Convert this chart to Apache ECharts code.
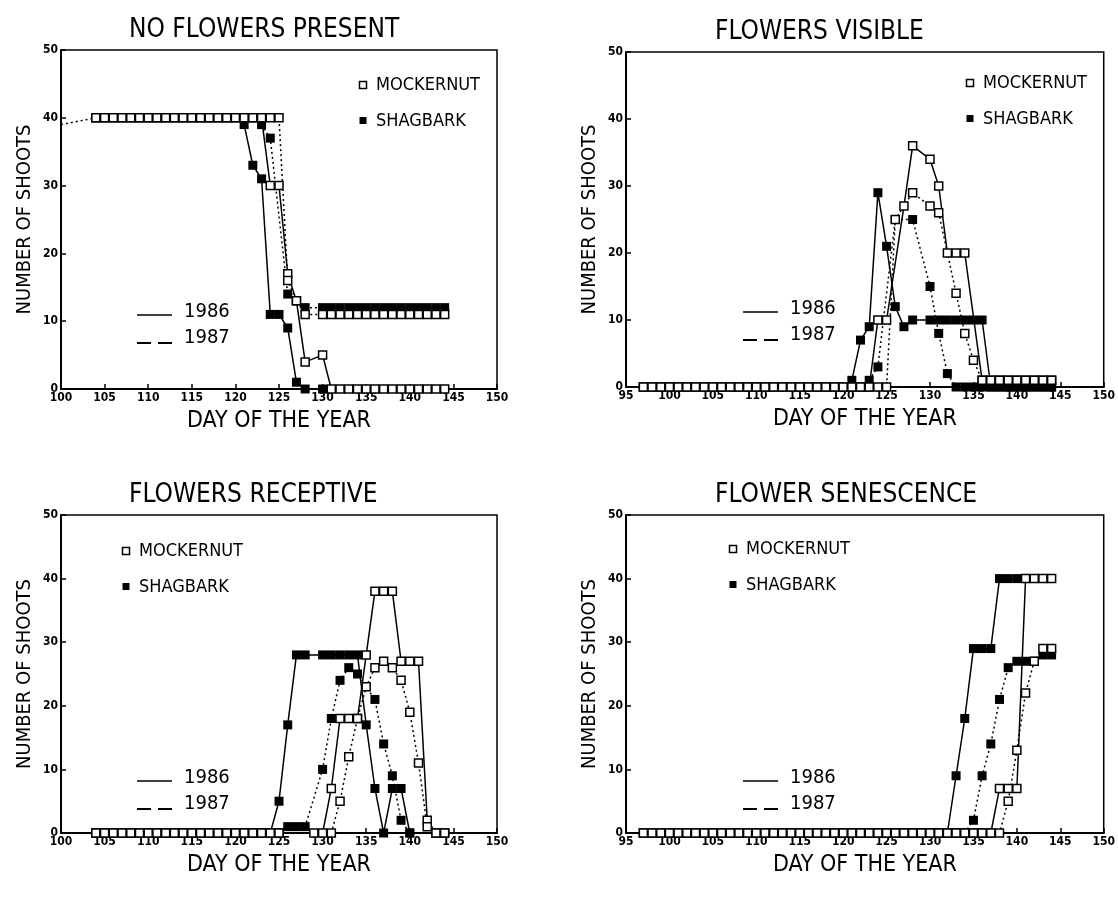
<!DOCTYPE html>
<html>
<head>
<meta charset="utf-8">
<script src="https://cdn.jsdelivr.net/npm/echarts/dist/echarts.min.js"></script>
<style>
  html, body { margin: 0; padding: 0; background: #fff; }
  #main { width: 1118px; height: 901px; }
</style>
</head>
<body>
<div id="main"></div>
<script>
// ---- data: [day of year, number of shoots] ----
// NO FLOWERS PRESENT
const noFlowMock86 = [[104,40],[105,40],[106,40],[107,40],[108,40],[109,40],[110,40],[111,40],[112,40],[113,40],[114,40],[115,40],[116,40],[117,40],[118,40],[119,40],[120,40],[121,40],[122,40],[123,40],[124,30],[125,30],[126,17],[127,13],[128,4],[130,5],[131,0],[132,0],[133,0],[134,0],[135,0],[136,0],[137,0],[138,0],[139,0],[140,0],[141,0],[142,0],[143,0],[144,0]];
const noFlowMock87Lead = [100,39];
const noFlowMock87 = [[104,40],[105,40],[106,40],[107,40],[108,40],[109,40],[110,40],[111,40],[112,40],[113,40],[114,40],[115,40],[116,40],[117,40],[118,40],[119,40],[120,40],[121,40],[122,40],[123,40],[124,40],[125,40],[126,16],[127,13],[128,11],[130,11],[131,11],[132,11],[133,11],[134,11],[135,11],[136,11],[137,11],[138,11],[139,11],[140,11],[141,11],[142,11],[143,11],[144,11]];
const noFlowShag86 = [[121,39],[122,33],[123,31],[124,11],[125,11],[126,9],[127,1],[128,0],[130,0]];
const noFlowShag87 = [[123,39],[124,37],[126,14],[128,12],[130,12],[131,12],[132,12],[133,12],[134,12],[135,12],[136,12],[137,12],[138,12],[139,12],[140,12],[141,12],[142,12],[143,12],[144,12]];

// FLOWERS VISIBLE
const visMock86 = [[97,0],[98,0],[99,0],[100,0],[101,0],[102,0],[103,0],[104,0],[105,0],[106,0],[107,0],[108,0],[109,0],[110,0],[111,0],[112,0],[113,0],[114,0],[115,0],[116,0],[117,0],[118,0],[119,0],[120,0],[121,0],[122,0],[123,0],[124,10],[125,10],[127,27],[128,36],[130,34],[131,30],[132,20],[133,20],[134,20],[136,1],[137,1],[138,1],[139,1],[140,1],[141,1],[142,1],[143,1],[144,1]];
const visMock87 = [[97,0],[98,0],[99,0],[100,0],[101,0],[102,0],[103,0],[104,0],[105,0],[106,0],[107,0],[108,0],[109,0],[110,0],[111,0],[112,0],[113,0],[114,0],[115,0],[116,0],[117,0],[118,0],[119,0],[120,0],[121,0],[122,0],[123,0],[124,0],[125,0],[126,25],[128,29],[130,27],[131,26],[133,14],[134,8],[135,4],[136,1],[137,1],[138,1],[139,1],[140,1],[141,1],[142,1],[143,1],[144,1]];
const visShag86 = [[121,1],[122,7],[123,9],[124,29],[125,21],[126,12],[127,9],[128,10],[130,10],[131,10],[132,10],[133,10],[134,10],[135,10],[136,10],[137,0],[138,0],[139,0],[140,0],[141,0],[142,0],[143,0],[144,0]];
const visShag87 = [[123,1],[124,3],[126,25],[128,25],[130,15],[131,8],[132,2],[133,0],[134,0],[135,0],[136,0],[137,0],[138,0],[139,0],[140,0],[141,0],[142,0],[143,0],[144,0]];

// FLOWERS RECEPTIVE
const recMock86 = [[104,0],[105,0],[106,0],[107,0],[108,0],[109,0],[110,0],[111,0],[112,0],[113,0],[114,0],[115,0],[116,0],[117,0],[118,0],[119,0],[120,0],[121,0],[122,0],[123,0],[124,0],[125,0],[129,0],[130,0],[131,7],[132,18],[133,18],[134,18],[135,28],[136,38],[137,38],[138,38],[139,27],[140,27],[141,27],[142,2],[143,0],[144,0]];
const recMock87 = [[104,0],[105,0],[106,0],[107,0],[108,0],[109,0],[110,0],[111,0],[112,0],[113,0],[114,0],[115,0],[116,0],[117,0],[118,0],[119,0],[120,0],[121,0],[122,0],[123,0],[124,0],[125,0],[131,0],[132,5],[133,12],[134,18],[135,23],[136,26],[137,27],[138,26],[139,24],[140,19],[141,11],[142,1],[143,0],[144,0]];
const recShag86 = [[121,0],[122,0],[123,0],[124,0],[125,5],[126,17],[127,28],[128,28],[130,28],[131,28],[132,28],[133,28],[134,28],[135,17],[136,7],[137,0],[138,7],[139,7],[140,0]];
const recShag87 = [[123,0],[124,0],[125,0],[126,1],[127,1],[128,1],[130,10],[131,18],[132,24],[133,26],[134,25],[136,21],[137,14],[138,9],[139,2],[140,0]];

// FLOWER SENESCENCE
const senMock86 = [[97,0],[98,0],[99,0],[100,0],[101,0],[102,0],[103,0],[104,0],[105,0],[106,0],[107,0],[108,0],[109,0],[110,0],[111,0],[112,0],[113,0],[114,0],[115,0],[116,0],[117,0],[118,0],[119,0],[120,0],[121,0],[122,0],[123,0],[124,0],[125,0],[126,0],[127,0],[128,0],[129,0],[130,0],[131,0],[132,0],[133,0],[134,0],[135,0],[136,0],[137,0],[138,7],[139,7],[140,7],[141,40],[142,40],[143,40],[144,40]];
const senMock87 = [[97,0],[98,0],[99,0],[100,0],[101,0],[102,0],[103,0],[104,0],[105,0],[106,0],[107,0],[108,0],[109,0],[110,0],[111,0],[112,0],[113,0],[114,0],[115,0],[116,0],[117,0],[118,0],[119,0],[120,0],[121,0],[122,0],[123,0],[124,0],[125,0],[126,0],[127,0],[128,0],[129,0],[130,0],[131,0],[132,0],[133,0],[134,0],[135,0],[136,0],[137,0],[138,0],[139,5],[140,13],[141,22],[142,27],[143,29],[144,29]];
const senShag86 = [[121,0],[122,0],[123,0],[124,0],[125,0],[126,0],[127,0],[128,0],[129,0],[130,0],[131,0],[132,0],[133,9],[134,18],[135,29],[136,29],[137,29],[138,40],[139,40],[140,40]];
const senShag87 = [[123,0],[124,0],[125,0],[126,0],[127,0],[128,0],[129,0],[130,0],[131,0],[132,0],[133,0],[134,0],[135,2],[136,9],[137,14],[138,21],[139,26],[140,27],[141,27],[142,27],[143,28],[144,28]];

const panelTitles = ['NO FLOWERS PRESENT', 'FLOWERS VISIBLE', 'FLOWERS RECEPTIVE', 'FLOWER SENESCENCE'];
const dayMin = [100, 95, 100, 95];

const FONT = '"Liberation Sans Narrow", "DejaVu Sans Condensed", "Liberation Sans", sans-serif';

// plot boxes in pixels [left, top, right, bottom]
const boxes = [
  [61, 50, 497, 389],
  [626, 52, 1104, 387],
  [61, 515, 497, 833],
  [626, 515, 1104, 833]
];

const chart = echarts.init(document.getElementById('main'));

const grids = boxes.map(b => ({
  left: b[0], top: b[1], width: b[2] - b[0], height: b[3] - b[1],
  show: true, borderColor: '#000', borderWidth: 1.5, backgroundColor: 'transparent'
}));

const xAxes = boxes.map((b, i) => ({
  type: 'value', gridIndex: i, min: dayMin[i], max: 150, interval: 5,
  name: 'DAY OF THE YEAR', nameLocation: 'middle', nameGap: 21,
  nameTextStyle: { fontFamily: FONT, fontSize: 23, color: '#000' },
  axisLine: { lineStyle: { color: '#000', width: 2 } },
  axisTick: { inside: true, length: 5, lineStyle: { color: '#000', width: 1.5 } },
  axisLabel: { fontFamily: FONT, fontSize: 12, fontWeight: 'bold', color: '#000', margin: 3 },
  splitLine: { show: false }
}));

const yAxes = boxes.map((b, i) => ({
  type: 'value', gridIndex: i, min: 0, max: 50, interval: 10,
  name: 'NUMBER OF SHOOTS', nameLocation: 'middle', nameGap: 26,
  nameTextStyle: { fontFamily: FONT, fontSize: 20, color: '#000' },
  axisLine: { lineStyle: { color: '#000', width: 2 } },
  axisTick: { inside: true, length: 5, lineStyle: { color: '#000', width: 1.5 } },
  axisLabel: { fontFamily: FONT, fontSize: 12, fontWeight: 'bold', color: '#000', margin: 3 },
  splitLine: { show: false }
}));

function mk(grid, data, filled, dotted) {
  return {
    type: 'line', xAxisIndex: grid, yAxisIndex: grid, data: data,
    symbol: 'rect', symbolSize: filled ? 9 : 8, showSymbol: true,
    itemStyle: filled ? { color: '#000' } : { color: '#fff', borderColor: '#000', borderWidth: 1.5 },
    lineStyle: { color: '#000', width: 1.5, type: dotted ? [2, 3] : 'solid' },
    z: filled ? 2 : 3,
    animation: false, silent: true
  };
}

const series = [
  mk(0, noFlowShag86, true, false), mk(0, noFlowShag87, true, true),
  mk(0, noFlowMock86, false, false),
  mk(0, [{ value: noFlowMock87Lead, symbol: 'none' }].concat(noFlowMock87), false, true),
  mk(1, visShag86, true, false), mk(1, visShag87, true, true),
  mk(1, visMock86, false, false), mk(1, visMock87, false, true),
  mk(2, recShag86, true, false), mk(2, recShag87, true, true),
  mk(2, recMock86, false, false), mk(2, recMock87, false, true),
  mk(3, senShag86, true, false), mk(3, senShag87, true, true),
  mk(3, senMock86, false, false), mk(3, senMock87, false, true)
];

// legend keys drawn per panel
const legendPos = [
  { sym: [363, 85], yr: [137, 315] },
  { sym: [970, 83], yr: [743, 312] },
  { sym: [126, 551], yr: [137, 781] },
  { sym: [733, 549], yr: [743, 781] }
];

const graphic = [];
boxes.forEach((b, i) => {
  graphic.push({
    type: 'text', left: (b[0] + b[2]) / 2 - 150, top: b[1] - 33,
    style: { text: panelTitles[i], width: 300, align: 'center', font: '26px ' + FONT, fill: '#000' }
  });
  const s = legendPos[i].sym, y = legendPos[i].yr;
  graphic.push(
    { type: 'rect', shape: { x: s[0] - 3.5, y: s[1] - 3.5, width: 7, height: 7 }, style: { fill: '#fff', stroke: '#000', lineWidth: 1.5 } },
    { type: 'text', x: s[0] + 13, y: s[1], style: { text: 'MOCKERNUT', font: '18px ' + FONT, fill: '#000', verticalAlign: 'middle' } },
    { type: 'rect', shape: { x: s[0] - 3.5, y: s[1] + 32, width: 7, height: 7 }, style: { fill: '#000' } },
    { type: 'text', x: s[0] + 13, y: s[1] + 36, style: { text: 'SHAGBARK', font: '18px ' + FONT, fill: '#000', verticalAlign: 'middle' } },
    { type: 'line', shape: { x1: y[0], y1: y[1], x2: y[0] + 35, y2: y[1] }, style: { stroke: '#000', lineWidth: 1.5 } },
    { type: 'text', x: y[0] + 47, y: y[1] - 3, style: { text: '1986', font: '20px ' + FONT, fill: '#000', verticalAlign: 'middle' } },
    { type: 'line', shape: { x1: y[0], y1: y[1] + 28, x2: y[0] + 35, y2: y[1] + 28 }, style: { stroke: '#000', lineWidth: 2, lineDash: [14, 7] } },
    { type: 'text', x: y[0] + 47, y: y[1] + 23, style: { text: '1987', font: '20px ' + FONT, fill: '#000', verticalAlign: 'middle' } }
  );
});

chart.setOption({
  backgroundColor: '#fff',
  animation: false,
  grid: grids,
  xAxis: xAxes,
  yAxis: yAxes,
  series: series,
  graphic: graphic
});
</script>
</body>
</html>
